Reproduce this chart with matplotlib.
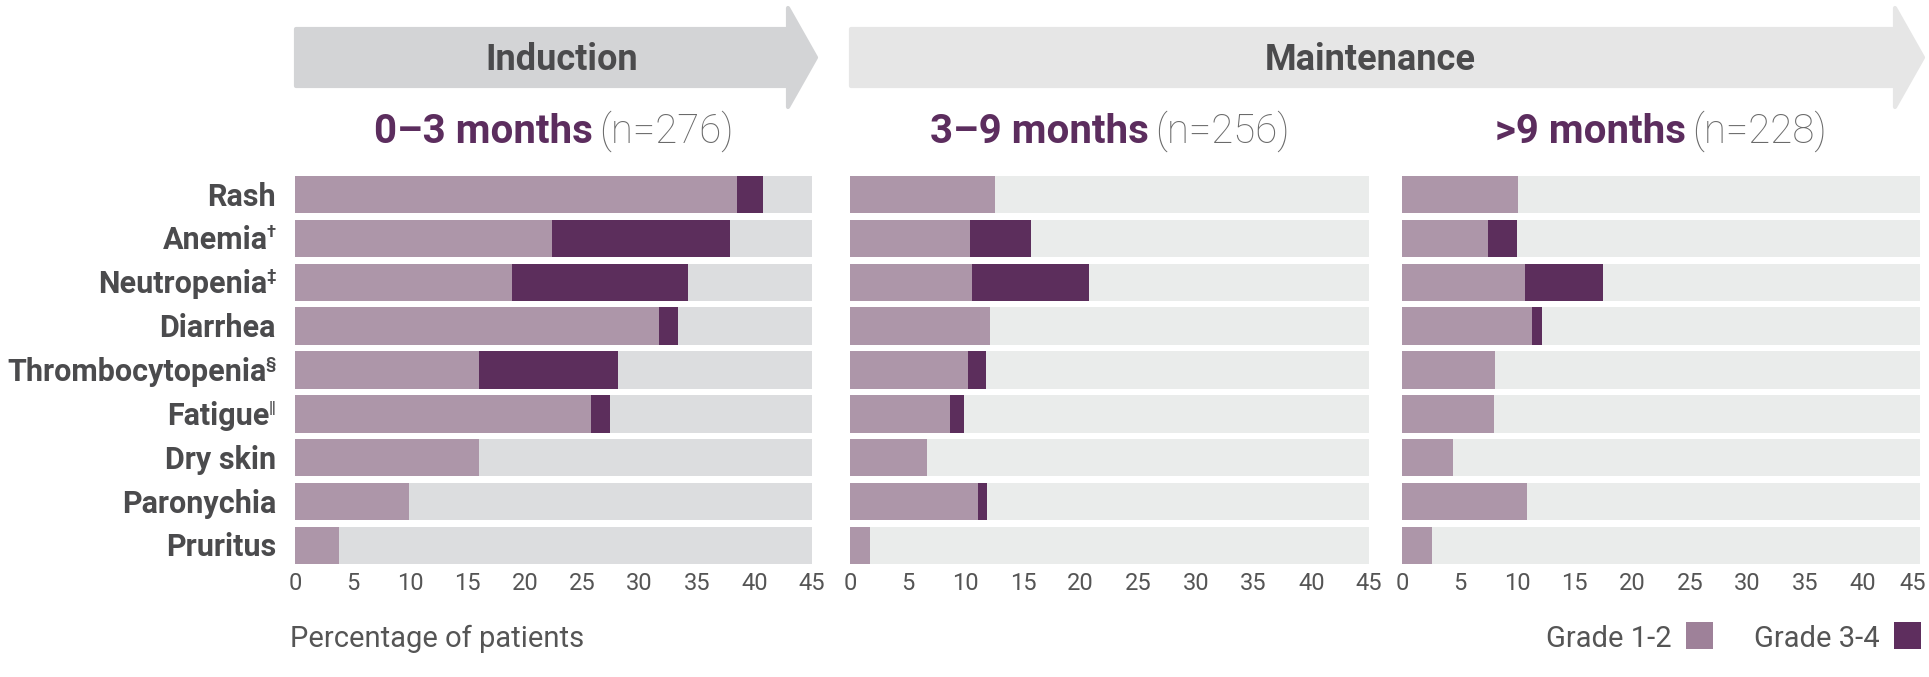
import matplotlib
matplotlib.use("Agg")
import matplotlib.pyplot as plt
from matplotlib.patches import Polygon, Rectangle
import numpy as np

plt.rcParams['font.family'] = ['Roboto', 'DejaVu Sans']

# datos
labels = ["Rash", "Anemia", "Neutropenia", "Diarrhea", "Thrombocytopenia",
          "Fatigue", "Dry skin", "Paronychia", "Pruritus"]
marks = ["", "†", "‡", "", "§", "‖", "", "", ""]

g12_0_3 = [38.5, 22.4, 18.9, 31.7, 16.0, 25.8, 16.0, 9.9, 3.8]
g34_0_3 = [2.2, 15.5, 15.3, 1.6, 12.1, 1.6, 0, 0, 0]
g12_3_9 = [12.6, 10.4, 10.6, 12.1, 10.2, 8.7, 6.7, 11.1, 1.7]
g34_3_9 = [0, 5.3, 10.1, 0, 1.6, 1.2, 0, 0.8, 0]
g12_9p = [10.1, 7.5, 10.7, 11.3, 8.1, 8.0, 4.4, 10.9, 2.6]
g34_9p = [0, 2.5, 6.8, 0.9, 0, 0, 0, 0, 0]

periods = ["0–3 months", "3–9 months", ">9 months"]
n_labels = ["(n=276)", "(n=256)", "(n=228)"]
phases = ["Induction", "Maintenance"]
legend_labels = ["Grade 1-2", "Grade 3-4"]
xticks = [0, 5, 10, 15, 20, 25, 30, 35, 40, 45]
xmax = 45

# colores
c12 = "#ad96a9"
c34 = "#5c2e5c"
bg_colors = ["#dcdddf", "#eaeceb", "#eaeceb"]
label_col = "#4b4b4d"
tick_col = "#555555"
title_col = "#5c2d5e"
paren_col = "#6a6a6a"

W, H = 1929, 677
fig = plt.figure(figsize=(W / 100, H / 100), dpi=100)

# capa de fondo en pixeles para flechas, titulos y leyenda
over = fig.add_axes([0, 0, 1, 1], zorder=0)
over.set_xlim(0, W)
over.set_ylim(H, 0)
over.axis("off")

# paneles (en pixeles de la figura)
panel_px = [(295, 812), (850, 1369), (1402, 1920)]
top_px, bot_px = 172.7, 567.3

g12_all = [g12_0_3, g12_3_9, g12_9p]
g34_all = [g34_0_3, g34_3_9, g34_9p]
y = np.arange(len(labels))
axes = []
for k, (x0, x1) in enumerate(panel_px):
    ax = fig.add_axes([x0 / W, 1 - bot_px / H, (x1 - x0) / W,
                       (bot_px - top_px) / H], zorder=1)
    ax.barh(y, [xmax] * len(labels), height=0.851, color=bg_colors[k],
            linewidth=0)
    ax.barh(y, g12_all[k], height=0.851, color=c12, linewidth=0)
    ax.barh(y, g34_all[k], left=g12_all[k], height=0.851, color=c34,
            linewidth=0)
    ax.set_xlim(0, xmax)
    ax.set_ylim(len(labels) - 0.5, -0.5)
    ax.set_xticks(xticks)
    ticklabs = [str(t) for t in xticks]
    if k == len(panel_px) - 1:
        # el ultimo "45" se dibuja aparte para que no se corte en el borde
        ticklabs[-1] = ""
        ax.annotate(str(xticks[-1]), xy=(1, 0), xycoords="axes fraction",
                    xytext=(4.5, -3.6), textcoords="offset points",
                    ha="right", va="top", fontsize=17, color=tick_col)
    ax.set_xticklabels(ticklabs)
    ax.tick_params(axis="x", length=0, pad=3.6, labelsize=17,
                   labelcolor=tick_col)
    ax.set_yticks([])
    for s in ax.spines.values():
        s.set_visible(False)
    ax.patch.set_alpha(0)
    axes.append(ax)

renderer = fig.canvas.get_renderer()

# etiquetas de filas con superindices
ax = axes[0]
for i, (name, mk) in enumerate(zip(labels, marks)):
    off = -13.7
    if mk:
        sup = ax.annotate(mk, xy=(0, i), xytext=(off, 0.8),
                          textcoords="offset points", ha="right",
                          va="baseline", fontsize=12, fontweight="bold",
                          color=label_col)
        w = sup.get_window_extent(renderer).width * 72 / 100
        off = off - w + 0.5
    ax.annotate(name, xy=(0, i), xytext=(off, -7.9),
                textcoords="offset points", ha="right", va="baseline",
                fontsize=22, fontweight="bold", color=label_col)

# flechas de fase
arrows = [(296, 788, 819, "#d3d4d6", 562), (851, 1895, 1926, "#e6e6e6", 1370)]
for (xa, xb, xt, col, tx), name in zip(arrows, phases):
    pts = [(xa, 29), (xb, 29), (xb, 8), (xt - 3, 57.5), (xb, 107),
           (xb, 86), (xa, 86)]
    over.add_patch(Polygon(pts, closed=True, facecolor=col, edgecolor=col,
                           linewidth=3, joinstyle="round"))
    over.text(tx, 70, name, ha="center", va="baseline", fontsize=26,
              fontweight="bold", color=label_col)

# titulos de periodo
for (x0, x1), per, nl in zip(panel_px, periods, n_labels):
    t1 = over.text(0, 143, per, ha="left", va="baseline", fontsize=29,
                   fontweight="bold", color=title_col)
    t2 = over.text(0, 143, nl, ha="left", va="baseline", fontsize=29,
                   fontweight="light", color=paren_col)
    w1 = t1.get_window_extent(renderer).width
    w2 = t2.get_window_extent(renderer).width
    gap = 6
    start = (x0 + x1) / 2 - (w1 + gap + w2) / 2
    t1.set_x(start)
    t2.set_x(start + w1 + gap)

# titulo del eje
over.text(290, 647, "Percentage of patients", ha="left", va="baseline",
          fontsize=21, color=tick_col)

# leyenda
leg_cols = ["#9e8199", "#5e2e5e"]
leg_x = [1686, 1894]
for lx, col, lab in zip(leg_x, leg_cols, legend_labels):
    over.add_patch(Rectangle((lx, 622), 27, 27, facecolor=col, linewidth=0))
    over.text(lx - 14, 647, lab, ha="right", va="baseline", fontsize=21,
              color=tick_col)

fig.savefig("out.png", dpi=100)
